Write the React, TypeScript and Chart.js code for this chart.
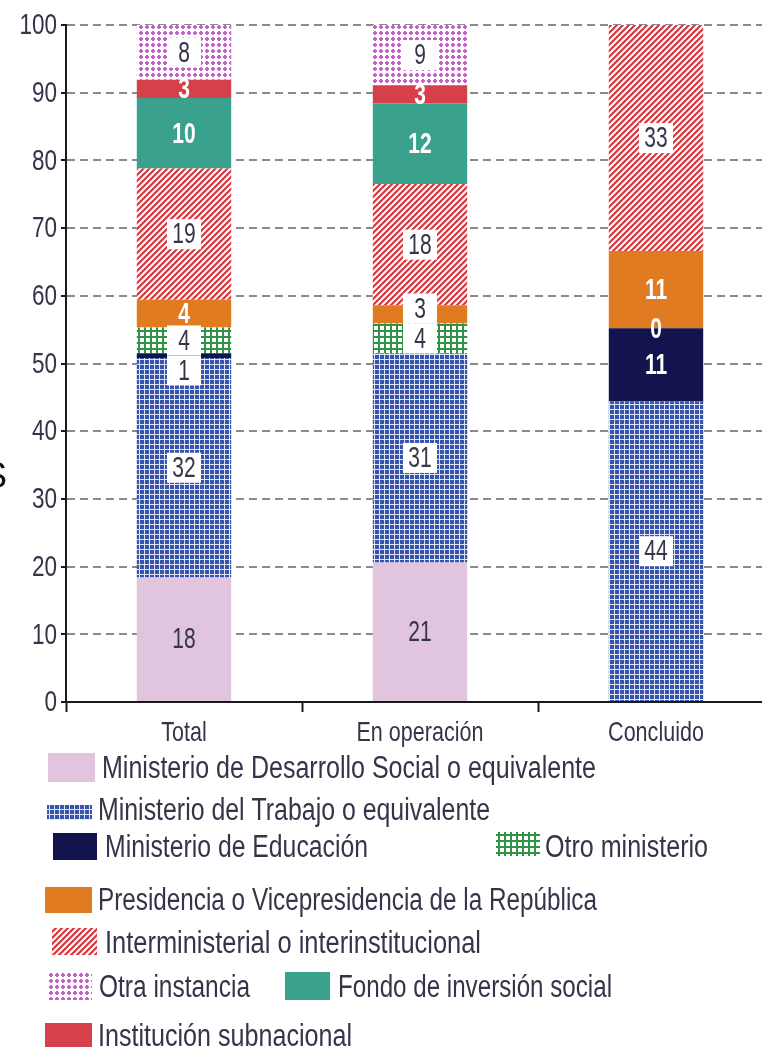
import React, { useEffect, useRef } from 'react';
import { Chart, registerables } from 'chart.js';

Chart.register(...registerables);

// ---------- data ----------
const categories = ['Total', 'En operación', 'Concluido'];
const yTicks = [0, 10, 20, 30, 40, 50, 60, 70, 80, 90, 100];

const seriesLabels = [
  'Ministerio de Desarrollo Social o equivalente',
  'Ministerio del Trabajo o equivalente',
  'Ministerio de Educación',
  'Otro ministerio',
  'Presidencia o Vicepresidencia de la República',
  'Interministerial o interinstitucional',
  'Fondo de inversión social',
  'Institución subnacional',
  'Otra instancia',
];

const desarrolloSocial = [18.4, 20.6, null];
const trabajo = [32.4, 30.9, 44.4];
const educacion = [0.7, null, 10.8];
const otroMinisterio = [3.8, 4.4, 0];
const presidencia = [4.1, 2.7, 11.4];
const interministerial = [19.4, 17.9, 33.4];
const fondoInversion = [10.4, 11.9, null];
const subnacional = [2.7, 2.7, null];
const otraInstancia = [8.1, 8.9, null];

const seriesValues = [
  desarrolloSocial,
  trabajo,
  educacion,
  otroMinisterio,
  presidencia,
  interministerial,
  fondoInversion,
  subnacional,
  otraInstancia,
];

// label style per series / category: plain text, white box, or white bold text
const labelStyle = [
  ['plain', 'plain', 'plain'],
  ['box', 'box', 'box'],
  ['box', 'box', 'white'],
  ['box', 'box', 'white'],
  ['white', 'box', 'white'],
  ['box', 'box', 'box'],
  ['white', 'white', 'white'],
  ['white', 'white', 'white'],
  ['box', 'box', 'box'],
];

const FONT = "'Liberation Sans', Arial, sans-serif";
const TEXT = '#35354a';

// ---------- patterns ----------
function makeFill(kind: string): CanvasPattern | string {
  const c = document.createElement('canvas');
  const x = c.getContext('2d') as CanvasRenderingContext2D;
  if (kind === 'blueDots') {
    c.width = 5; c.height = 5;
    x.fillStyle = '#dfe4f6'; x.fillRect(0, 0, 5, 5);
    x.fillStyle = '#3654ac'; x.fillRect(0, 0, 4, 4);
  } else if (kind === 'greenGrid') {
    c.width = 6; c.height = 6;
    x.fillStyle = '#2e9444'; x.fillRect(0, 0, 6, 6);
    x.fillStyle = '#ffffff'; x.fillRect(2, 2, 4, 4);
  } else if (kind === 'redStripes') {
    const s = 6;
    c.width = s; c.height = s;
    x.fillStyle = '#ffffff'; x.fillRect(0, 0, s, s);
    x.strokeStyle = '#d8363e'; x.lineWidth = 2.2;
    x.beginPath();
    x.moveTo(0, s); x.lineTo(s, 0);
    x.moveTo(-s / 2, s / 2); x.lineTo(s / 2, -s / 2);
    x.moveTo(s / 2, s * 1.5); x.lineTo(s * 1.5, s / 2);
    x.stroke();
  } else if (kind === 'pinkDots') {
    c.width = 6; c.height = 6;
    x.fillStyle = '#ffffff'; x.fillRect(0, 0, 6, 6);
    x.fillStyle = '#c462c8'; x.fillRect(1, 1, 4, 4);
    x.fillStyle = '#ffffff';
    x.fillRect(1, 1, 1, 1); x.fillRect(4, 1, 1, 1); x.fillRect(1, 4, 1, 1); x.fillRect(4, 4, 1, 1);
  } else {
    return kind;
  }
  const p = x.createPattern(c, 'repeat');
  return p || '#888';
}

const fillKinds = [
  '#e1c5df',
  'blueDots',
  '#13134d',
  'greenGrid',
  '#e07b22',
  'redStripes',
  '#39a18c',
  '#d6404a',
  'pinkDots',
];

const BOX_W = 34;
const BOX_H = 30;

function drawText(
  ctx: CanvasRenderingContext2D,
  text: string,
  x: number,
  y: number,
  font: string,
  color: string,
  sx: number,
  align: CanvasTextAlign = 'center',
  baseline: CanvasTextBaseline = 'middle',
) {
  ctx.save();
  ctx.translate(x, y);
  ctx.scale(sx, 1);
  ctx.font = font;
  ctx.fillStyle = color;
  ctx.textAlign = align;
  ctx.textBaseline = baseline;
  ctx.fillText(text, 0, 0);
  ctx.restore();
}

const segLabels = {
  id: 'segLabels',
  afterDatasetsDraw(chart: any) {
    const ctx = chart.ctx as CanvasRenderingContext2D;
    for (let j = 0; j < categories.length; j++) {
      const items: any[] = [];
      chart.data.datasets.forEach((ds: any, i: number) => {
        const v = ds.data[j];
        if (v === null || v === undefined) return;
        const el = chart.getDatasetMeta(i).data[j];
        if (!el) return;
        const top = Math.min(el.y, el.base);
        const bot = Math.max(el.y, el.base);
        items.push({ v, x: el.x, cy: (top + bot) / 2, h: bot - top, style: labelStyle[i][j] });
      });
      const boxed = items.filter((it) => it.style === 'box');
      for (let k = 0; k + 1 < boxed.length; k++) {
        const a = boxed[k];
        const b = boxed[k + 1];
        if (a.cy - b.cy < BOX_H) {
          if (a.h < b.h) a.cy = b.cy + BOX_H;
          else b.cy = a.cy - BOX_H;
        }
      }
      items.forEach((it) => {
        const t = String(Math.round(it.v));
        if (it.style === 'box') {
          ctx.fillStyle = '#ffffff';
          ctx.fillRect(it.x - BOX_W / 2, it.cy - BOX_H / 2, BOX_W, BOX_H);
          drawText(ctx, t, it.x, it.cy + 1, `30px ${FONT}`, TEXT, 0.7);
        } else if (it.style === 'white') {
          drawText(ctx, t, it.x, it.cy + 1, `bold 30px ${FONT}`, '#ffffff', 0.7);
        } else {
          drawText(ctx, t, it.x, it.cy + 1, `30px ${FONT}`, TEXT, 0.7);
        }
      });
    }
  },
};

const legendLayout = [
  { ds: 0, sx: 48, sy: 753, sw: 47, sh: 29, tx: 102, ty: 778, tw: 494 },
  { ds: 1, sx: 47, sy: 805, sw: 45, sh: 15, tx: 98, ty: 820, tw: 392 },
  { ds: 2, sx: 53, sy: 833, sw: 44, sh: 27, tx: 105, ty: 857, tw: 263 },
  { ds: 3, sx: 496, sy: 832, sw: 44, sh: 24, tx: 545, ty: 857, tw: 163 },
  { ds: 4, sx: 45, sy: 887, sw: 47, sh: 26, tx: 98, ty: 910, tw: 499 },
  { ds: 5, sx: 52, sy: 928, sw: 45, sh: 27, tx: 105, ty: 953, tw: 376 },
  { ds: 8, sx: 48, sy: 972, sw: 44, sh: 28, tx: 99, ty: 997, tw: 151 },
  { ds: 6, sx: 285, sy: 972, sw: 45, sh: 28, tx: 338, ty: 997, tw: 274 },
  { ds: 7, sx: 45, sy: 1023, sw: 47, sh: 30, tx: 98, ty: 1046, tw: 254 },
];

const axisAndLegend = {
  id: 'axisAndLegend',
  afterDraw(chart: any) {
    const ctx = chart.ctx as CanvasRenderingContext2D;
    const ys = chart.scales.y;
    const xs = chart.scales.x;
    // y tick labels
    yTicks.forEach((v) => {
      drawText(ctx, String(v), 57, ys.getPixelForValue(v) + 1, `30px ${FONT}`, TEXT, 0.75, 'right', 'middle');
    });
    // x tick labels
    categories.forEach((c, i) => {
      drawText(ctx, c, xs.getPixelForValue(i), 741, `28px ${FONT}`, TEXT, 0.77, 'center', 'alphabetic');
    });
    // legend
    legendLayout.forEach((l) => {
      const ds = chart.data.datasets[l.ds];
      ctx.save();
      ctx.fillStyle = ds.backgroundColor;
      ctx.fillRect(l.sx, l.sy, l.sw, l.sh);
      ctx.restore();
      ctx.save();
      ctx.font = `31px ${FONT}`;
      const w = ctx.measureText(ds.label).width;
      ctx.restore();
      drawText(ctx, ds.label, l.tx, l.ty, `31px ${FONT}`, TEXT, l.tw / w, 'left', 'alphabetic');
    });
    // clipped letter at the left edge
    ctx.save();
    ctx.font = `36px ${FONT}`;
    ctx.fillStyle = '#111111';
    ctx.textAlign = 'right';
    ctx.textBaseline = 'alphabetic';
    ctx.fillText('S', 7, 488);
    ctx.restore();
  },
};

export default function App() {
  const ref = useRef<HTMLCanvasElement | null>(null);

  useEffect(() => {
    if (!ref.current) return;
    const datasets = seriesValues.map((vals, i) => ({
      label: seriesLabels[i],
      data: vals,
      backgroundColor: makeFill(fillKinds[i]) as any,
      borderWidth: 0,
      barPercentage: 0.4,
      categoryPercentage: 1,
    }));
    const chart = new Chart(ref.current, {
      type: 'bar',
      data: { labels: categories, datasets },
      plugins: [segLabels, axisAndLegend],
      options: {
        animation: false,
        responsive: false,
        maintainAspectRatio: false,
        devicePixelRatio: 1,
        layout: { padding: { left: 0, top: 25, right: 26, bottom: 0 } },
        plugins: { legend: { display: false }, tooltip: { enabled: false } },
        scales: {
          x: {
            stacked: true,
            offset: true,
            afterFit: (s: any) => { s.height = 1047 - 702; },
            grid: {
              display: true,
              drawOnChartArea: false,
              drawTicks: true,
              tickLength: 10,
              tickWidth: 2,
              tickColor: '#1a1a1a',
              offset: true,
            },
            border: { display: true, color: '#1a1a1a', width: 2 },
            ticks: { display: false, autoSkip: false, maxRotation: 0 },
          },
          y: {
            stacked: true,
            min: 0,
            max: 100,
            afterFit: (s: any) => { s.width = 66; },
            afterBuildTicks: (s: any) => { s.ticks = yTicks.map((v) => ({ value: v })); },
            grid: {
              color: '#8a8a8a',
              lineWidth: 2,
              tickLength: 5,
              tickWidth: 2,
              tickColor: '#1a1a1a',
              tickBorderDash: [],
            },
            border: { display: true, color: '#1a1a1a', width: 2, dash: [8, 5] },
            ticks: { display: false },
          },
        },
      } as any,
    });
    return () => chart.destroy();
  }, []);

  return (
    <div
      style={{
        position: 'absolute',
        left: 0,
        top: 0,
        width: 762,
        height: 1047,
        overflow: 'hidden',
        background: '#ffffff',
      }}
    >
      <canvas ref={ref} width={800} height={1047} style={{ width: 800, height: 1047, display: 'block' }} />
    </div>
  );
}
